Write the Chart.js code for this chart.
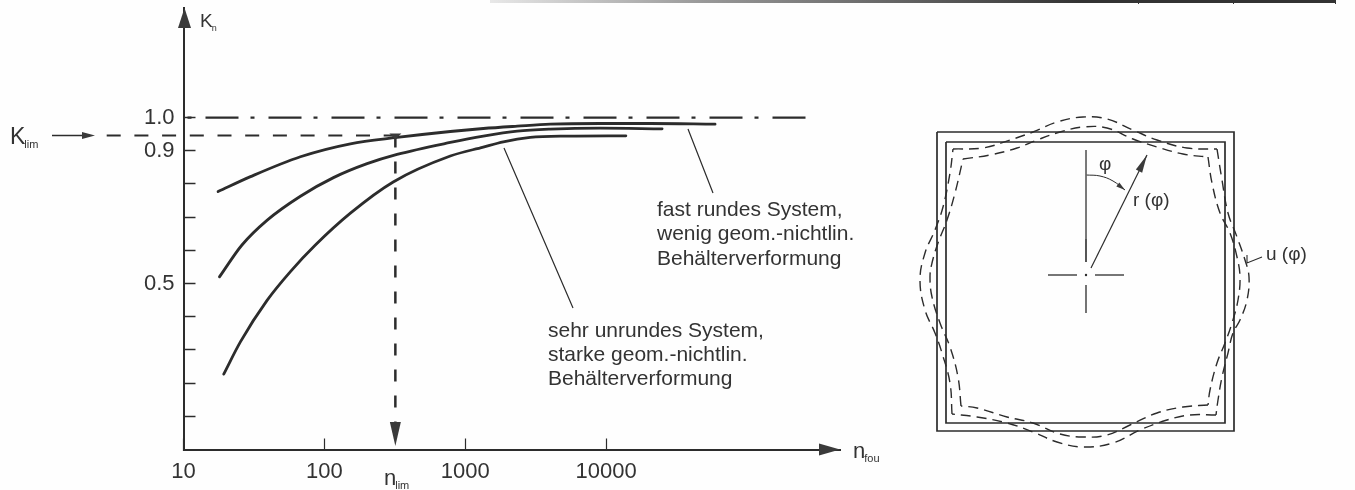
<!DOCTYPE html>
<html>
<head>
<meta charset="utf-8">
<title>Kn</title>
<script src="https://cdn.jsdelivr.net/npm/chart.js@4"></script>
<style>
  html, body { margin: 0; padding: 0; background: #fefefe; overflow: hidden; }
  #stage { position: relative; width: 1355px; height: 490px; }
  #left-chart { position: absolute; left: 0; top: 0; }
  #right-chart { position: absolute; left: 900px; top: 0; }
  /* rest of the title block cut off at the top of the scan */
  #top-rule { position: absolute; left: 490px; top: 0; width: 846px; height: 3px;
    background: linear-gradient(to right, #e8e8e8, #999 25%, #333 70%, #333); }
  .rule-tick { position: absolute; top: 0; width: 1px; height: 4px; background: #333; }
</style>
</head>
<body>
<div id="stage">
  <canvas id="left-chart" width="900" height="490"></canvas>
  <canvas id="right-chart" width="455" height="490"></canvas>
  <div id="top-rule"></div>
  <div class="rule-tick" style="left: 1138px"></div>
  <div class="rule-tick" style="left: 1233px"></div>
  <div class="rule-tick" style="left: 1335px"></div>
</div>
<script>
// --- left diagram, values ---
const xTicks = [10, 100, 1000, 10000];
const yTicks = [0.1, 0.2, 0.3, 0.4, 0.5, 0.6, 0.7, 0.8, 0.9, 1.0];
const yTickLabels = { 0.5: '0.5', 0.9: '0.9', 1: '1.0' };

const kLim = 0.946;
const nLim = 319;

const nearRoundN = [17.6, 29.9, 67.6, 153, 328, 783, 1343, 2339, 4009, 9060, 20490, 59300];
const nearRoundK = [0.777, 0.822, 0.882, 0.921, 0.94, 0.958, 0.967, 0.974, 0.98, 0.982, 0.982, 0.98];

const midN = [18, 26, 39.3, 67.6, 116, 201, 328, 783, 1343, 2339, 4009, 9060, 24950];
const midK = [0.52, 0.616, 0.691, 0.763, 0.819, 0.861, 0.889, 0.925, 0.944, 0.959, 0.965, 0.968, 0.966];

const unroundN = [19.3, 25.4, 39.3, 57.4, 86.3, 153, 308, 783, 1343, 1862, 2891, 5285, 13800];
const unroundK = [0.227, 0.325, 0.45, 0.536, 0.616, 0.712, 0.806, 0.884, 0.911, 0.927, 0.94, 0.944, 0.945];

const oneLineN = [10, 262000];
const kLimLineN = [2.85, nLim];

// --- right diagram, units are relative to the centre cross ---
const outerBox = [[-149, 143], [148, 143], [148, -156], [-149, -156], [-149, 143]];
const innerBox = [[-140, 133], [139, 133], [139, -148], [-140, -148], [-140, 133]];

const outerTop = [[-133, 126], [-103, 127], [-76, 135], [-53, 143], [-29, 153], [-3, 158], [21, 156], [47, 145], [71, 135], [101, 127], [131, 126]];
const outerRight = [[131, 126], [136, 95], [142, 62], [151, 38], [159, 15], [163, -2], [161, -25], [154, -45], [147, -58], [142, -78], [136, -102], [132, -125], [130, -140]];
const outerBottom = [[130, -140], [104, -140], [81, -145], [54, -155], [27, -168], [-3, -172], [-29, -167], [-53, -157], [-79, -148], [-109, -142], [-134, -139]];
const outerLeft = [[-134, -139], [-136, -108], [-144, -78], [-151, -58], [-161, -35], [-166, -5], [-161, 22], [-151, 45], [-143, 68], [-136, 102], [-133, 126]];

const innerTop = [[-123, 116], [-96, 120], [-69, 127], [-49, 135], [-26, 143], [-3, 148], [21, 147], [47, 136], [71, 128], [97, 121], [122, 118]];
const innerRight = [[122, 118], [126, 92], [134, 62], [144, 42], [151, 18], [154, -2], [152, -25], [146, -48], [139, -68], [131, -88], [124, -115], [122, -130]];
const innerBottom = [[122, -130], [97, -132], [71, -138], [44, -150], [21, -160], [-3, -162], [-26, -159], [-53, -148], [-79, -142], [-109, -133], [-125, -131]];
const innerLeft = [[-125, -131], [-128, -102], [-136, -72], [-146, -48], [-154, -22], [-156, -2], [-154, 12], [-148, 32], [-139, 55], [-131, 82], [-123, 116]];

const axisThin = [[0, 125], [0, 36]];
const axisThick = [[0, 36], [0, 13]];
const axisLower = [[0, -10], [0, -38]];
const axisWest = [[-38, 0], [-9, 0]];
const axisEast = [[9, 0], [38, 0]];
const radiusArrow = [[5, 7], [61, 120]];
const angleArc = [[0, 100], [14, 99], [27, 94], [39, 85]];
const uLeader = [[161, 20], [161, 12], [176, 18]];

const INK = '#2c2c2c';
const FONT = '"Liberation Sans", Arial, sans-serif';

function zip(xs, ys) {
  return xs.map((x, i) => ({ x: x, y: ys[i] }));
}

function pairs(list) {
  return list.map(p => ({ x: p[0], y: p[1] }));
}

function flatK(ns, k) {
  return ns.map(n => ({ x: n, y: k }));
}

function arrowHead(ctx, fromX, fromY, toX, toY, len, width) {
  const a = Math.atan2(toY - fromY, toX - fromX);
  ctx.save();
  ctx.translate(toX, toY);
  ctx.rotate(a);
  ctx.fillStyle = '#3a3a3a';
  ctx.beginPath();
  ctx.moveTo(0, 0);
  ctx.lineTo(-len, -width / 2);
  ctx.lineTo(-len, width / 2);
  ctx.closePath();
  ctx.fill();
  ctx.restore();
}

function subText(ctx, main, sub, x, y, size, subSize) {
  ctx.font = size + 'px ' + FONT;
  ctx.fillText(main, x, y);
  const w = ctx.measureText(main).width;
  ctx.font = subSize + 'px ' + FONT;
  ctx.fillText(sub, x + w - 1, y + 4);
}

// heads on the datasets that ask for one
const datasetArrows = {
  id: 'datasetArrows',
  afterDatasetsDraw(chart) {
    chart.data.datasets.forEach((ds, i) => {
      if (!ds.head) return;
      const pts = chart.getDatasetMeta(i).data;
      const a = pts[pts.length - 2];
      const b = pts[pts.length - 1];
      arrowHead(chart.ctx, a.x, a.y, b.x, b.y, ds.head[0], ds.head[1]);
    });
  }
};

const leftNotes = {
  id: 'leftNotes',
  afterDraw(chart) {
    const ctx = chart.ctx;
    const area = chart.chartArea;
    const xs = chart.scales.x;
    const ys = chart.scales.y;
    ctx.save();

    // axis heads
    arrowHead(ctx, area.left, area.bottom, area.right, area.bottom, 21, 12);
    arrowHead(ctx, area.left + 1, area.bottom, area.left + 1, area.top, 20, 13);

    // K_lim pointer
    const yLim = ys.getPixelForValue(kLim);
    ctx.strokeStyle = INK;
    ctx.lineWidth = 1.5;
    ctx.beginPath();
    ctx.moveTo(52, yLim);
    ctx.lineTo(90, yLim);
    ctx.stroke();
    arrowHead(ctx, 52, yLim, 95, yLim, 13, 7);

    // small head where the K_lim line meets the top curve
    const xLim = xs.getPixelForValue(nLim);
    arrowHead(ctx, xLim, yLim - 2, xLim, yLim + 4, 6, 12);

    // leaders of the notes
    ctx.lineWidth = 1.2;
    ctx.beginPath();
    ctx.moveTo(688, 129);
    ctx.lineTo(713, 193);
    ctx.moveTo(504, 148);
    ctx.lineTo(573, 308);
    ctx.stroke();

    // texts
    ctx.fillStyle = '#333';
    ctx.textAlign = 'left';
    ctx.textBaseline = 'alphabetic';
    subText(ctx, 'K', 'n', 200, 27, 19, 9);
    subText(ctx, 'K', 'lim', 10, 144, 23, 11);
    subText(ctx, 'n', 'lim', 384, 485, 22, 11);
    subText(ctx, 'n', 'fou', 853, 458, 22, 11);

    ctx.font = '21px ' + FONT;
    ctx.fillText('fast rundes System,', 657, 216);
    ctx.fillText('wenig geom.-nichtlin.', 657, 240);
    ctx.fillText('Behälterverformung', 657, 265);
    ctx.fillText('sehr unrundes System,', 548, 337);
    ctx.fillText('starke geom.-nichtlin.', 548, 361);
    ctx.fillText('Behälterverformung', 548, 385);
    ctx.restore();
  }
};

const rightNotes = {
  id: 'rightNotes',
  afterDraw(chart) {
    const ctx = chart.ctx;
    ctx.save();
    ctx.fillStyle = '#333';
    ctx.textAlign = 'left';
    ctx.textBaseline = 'alphabetic';
    ctx.font = '19px ' + FONT;
    ctx.fillText('φ', 199, 170);
    ctx.fillText('r (φ)', 233, 206);
    ctx.fillText('u (φ)', 366, 260);
    ctx.restore();
  }
};

function curve(name, xs, ys) {
  return {
    label: name, data: zip(xs, ys), showLine: true, pointRadius: 0,
    borderColor: INK, borderWidth: 2.8, cubicInterpolationMode: 'monotone', clip: false, borderCapStyle: 'round'
  };
}

new Chart(document.getElementById('left-chart'), {
  type: 'scatter',
  data: {
    datasets: [
      curve('fast rundes System', nearRoundN, nearRoundK),
      curve('mittel', midN, midK),
      curve('sehr unrundes System', unroundN, unroundK),
      {
        label: '1.0', data: flatK(oneLineN, 1), showLine: true, pointRadius: 0,
        borderColor: INK, borderWidth: 2.2, borderDash: [33, 12, 4, 14], borderDashOffset: 41, clip: false
      },
      {
        label: 'Klim', data: flatK(kLimLineN, kLim), showLine: true, pointRadius: 0,
        borderColor: INK, borderWidth: 2, borderDash: [14, 13.7], clip: false
      },
      {
        label: 'nlim', data: [{ x: nLim, y: kLim }, { x: nLim, y: 0.0105 }], showLine: true, pointRadius: 0,
        borderColor: INK, borderWidth: 2.5, borderDash: [12, 14], clip: false, head: [24, 11]
      }
    ]
  },
  options: {
    responsive: false,
    animation: false,
    layout: { autoPadding: false, padding: { left: 123.5, right: 60, top: 8, bottom: 0.5 } },
    plugins: { legend: { display: false }, tooltip: { enabled: false } },
    scales: {
      x: {
        type: 'logarithmic',
        min: 10,
        max: 457000,
        afterBuildTicks: (scale) => { scale.ticks = xTicks.map(v => ({ value: v })); },
        afterFit: (scale) => { scale.height = 40; scale.paddingLeft = 0; scale.paddingRight = 0; },
        grid: { drawOnChartArea: false, tickLength: -11, tickColor: INK, tickWidth: 1.2 },
        border: { color: INK, width: 2 },
        ticks: {
          autoSkip: false, maxRotation: 0, padding: 20, color: '#333',
          font: { family: FONT, size: 22 },
          callback: (v) => String(v)
        }
      },
      y: {
        type: 'linear',
        min: 0,
        max: 1.33,
        afterBuildTicks: (scale) => { scale.ticks = yTicks.map(v => ({ value: v })); },
        afterFit: (scale) => { scale.width = 60; scale.paddingTop = 0; scale.paddingBottom = 0; },
        grid: { drawOnChartArea: false, tickLength: -12, tickColor: INK, tickWidth: 1.5 },
        border: { color: INK, width: 2 },
        ticks: {
          autoSkip: false, padding: 21, color: '#333',
          font: { family: FONT, size: 22 },
          callback: (v) => yTickLabels[Math.round(v * 10) / 10] || ''
        }
      }
    }
  },
  plugins: [datasetArrows, leftNotes]
});

function solid(name, list, width, extra) {
  return Object.assign({
    label: name, data: pairs(list), showLine: true, pointRadius: 0,
    borderColor: INK, borderWidth: width, tension: 0
  }, extra || {});
}

function dashed(name, list) {
  return {
    label: name, data: pairs(list), showLine: true, pointRadius: 0,
    borderColor: INK, borderWidth: 1.4, borderDash: [10, 6], tension: 0.4
  };
}

new Chart(document.getElementById('right-chart'), {
  type: 'scatter',
  data: {
    datasets: [
      solid('outer', outerBox, 1.7),
      solid('inner', innerBox, 1.7),
      dashed('outer top', outerTop),
      dashed('outer right', outerRight),
      dashed('outer bottom', outerBottom),
      dashed('outer left', outerLeft),
      dashed('inner top', innerTop),
      dashed('inner right', innerRight),
      dashed('inner bottom', innerBottom),
      dashed('inner left', innerLeft),
      solid('axis', axisThin, 1, { borderColor: '#666' }),
      solid('axis', axisThick, 1.6),
      solid('axis', axisLower, 1.3),
      solid('axis', axisWest, 1.3),
      solid('axis', axisEast, 1.3),
      { label: 'centre', data: [{ x: 0, y: 0 }], pointRadius: 1.2, pointBackgroundColor: INK, pointBorderWidth: 0 },
      solid('r', radiusArrow, 1.2, { head: [18, 7] }),
      solid('phi', angleArc, 1, { tension: 0.4, head: [9, 5] }),
      solid('u', uLeader, 1.1)
    ]
  },
  options: {
    responsive: false,
    animation: false,
    layout: { autoPadding: false, padding: 0 },
    plugins: { legend: { display: false }, tooltip: { enabled: false } },
    scales: {
      x: { type: 'linear', display: false, min: -186, max: 269 },
      y: { type: 'linear', display: false, min: -215, max: 275 }
    }
  },
  plugins: [datasetArrows, rightNotes]
});
</script>
</body>
</html>
